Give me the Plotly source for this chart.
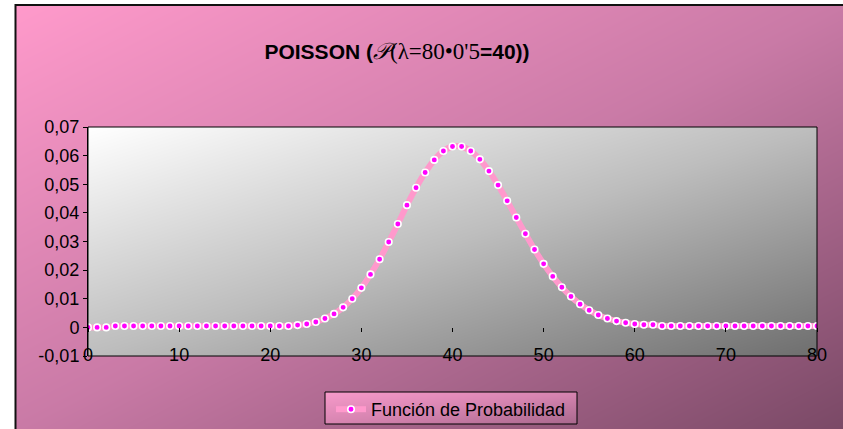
import plotly.graph_objects as go

# ---- data ----
k_values = list(range(0, 81))
prob_values = [
    0.0000, 0.0000, 0.0000, 0.0005, 0.0005, 0.0005, 0.0005, 0.0005, 0.0005, 0.0005,  # 0-9
    0.0005, 0.0005, 0.0005, 0.0005, 0.0005, 0.0005, 0.0005, 0.0005, 0.0005, 0.0005,  # 10-19
    0.0005, 0.0005, 0.0005, 0.0008, 0.0012, 0.0019, 0.0031, 0.0047, 0.0070, 0.0100,  # 20-29
    0.0138, 0.0185, 0.0238, 0.0298, 0.0361, 0.0427, 0.0488, 0.0541, 0.0585, 0.0616,  # 30-39
    0.0632, 0.0632, 0.0616, 0.0587, 0.0546, 0.0497, 0.0442, 0.0384, 0.0327, 0.0272,  # 40-49
    0.0222, 0.0178, 0.0140, 0.0108, 0.0081, 0.0060, 0.0043, 0.0031, 0.0022, 0.0016,  # 50-59
    0.0012, 0.0009, 0.0009, 0.0005, 0.0005, 0.0005, 0.0005, 0.0005, 0.0005, 0.0005,  # 60-69
    0.0005, 0.0005, 0.0005, 0.0005, 0.0005, 0.0005, 0.0005, 0.0005, 0.0005, 0.0005,  # 70-79
    0.0005,                                                                          # 80
]
x_tick_vals = [0, 10, 20, 30, 40, 50, 60, 70, 80]
y_tick_vals = [-0.01, 0, 0.01, 0.02, 0.03, 0.04, 0.05, 0.06, 0.07]
y_tick_text = ["-0,01", "0", "0,01", "0,02", "0,03", "0,04", "0,05", "0,06", "0,07"]
series_name = "Función de Probabilidad"
title_html = ("<b>POISSON (</b><span style='font-family:Liberation Serif;font-size:23px'>"
              "<i>𝒫</i>(λ=80•0'5</span><b>=40))</b>")

W, H = 843, 429
FONT = "Liberation Sans, Arial, sans-serif"

def px_x(p):
    return p / W

def px_y(p):
    return 1 - p / H

# plot-area pixel box
PL, PR, PT, PB = 88, 817, 127, 356
zero_px = PB - (PB - PT) * (0 - (-0.01)) / 0.08
# legend box
LL, LR, LT, LB = 325, 577, 392, 424

fig = go.Figure()

# chart-area diagonal gradient background
fig.add_trace(go.Heatmap(
    x=[0, 1], y=[0, 1], z=[[0.5, 1.0], [0.0, 0.5]],
    zsmooth="best", showscale=False, hoverinfo="skip",
    colorscale=[[0, "#FF9ACB"], [0.5, "#C97AA6"], [1, "#7A4966"]],
    zmin=0, zmax=1, xaxis="x", yaxis="y",
))
# plot-area gradient
fig.add_trace(go.Heatmap(
    x=[0, 80], y=[-0.01, 0.07], z=[[0.5, 1.0], [0.0, 0.5]],
    zsmooth="best", showscale=False, hoverinfo="skip",
    colorscale=[[0, "#FFFFFF"], [0.5, "#BDBDBD"], [1, "#6E6E6E"]],
    zmin=0, zmax=1, xaxis="x2", yaxis="y2",
))
# legend gradient
fig.add_trace(go.Heatmap(
    x=[0, 1], y=[0, 1], z=[[0.5, 1.0], [0.0, 0.5]],
    zsmooth="best", showscale=False, hoverinfo="skip",
    colorscale=[[0, "#F79ACA"], [0.5, "#D684B0"], [1, "#A7678C"]],
    zmin=0, zmax=1, xaxis="x3", yaxis="y3",
))
# data
fig.add_trace(go.Scatter(
    x=k_values, y=prob_values, name=series_name,
    mode="lines+markers",
    line=dict(color="#FF99CC", width=6, shape="spline", smoothing=0.6),
    marker=dict(symbol="circle", size=6.5, color="#FF00FF",
                line=dict(color="white", width=1.6)),
    xaxis="x2", yaxis="y2",
))

hidden = dict(visible=False, fixedrange=True)
fig.update_layout(
    width=W, height=H,
    margin=dict(l=0, r=0, t=0, b=0, pad=0, autoexpand=False),
    paper_bgcolor="white", plot_bgcolor="rgba(0,0,0,0)",
    font=dict(family=FONT, size=18, color="black"),
    showlegend=True,
    title=dict(text=title_html, x=397 / W, xanchor="center", y=px_y(52), yanchor="middle",
               font=dict(family=FONT, size=21, color="black")),
    xaxis=dict(domain=[px_x(15), 1], range=[0, 1], **hidden),
    yaxis=dict(domain=[0, px_y(5)], range=[0, 1], **hidden),
    xaxis3=dict(domain=[px_x(LL), px_x(LR)], range=[0, 1], anchor="y3", **hidden),
    yaxis3=dict(domain=[px_y(LB), px_y(LT)], range=[0, 1], anchor="x3", **hidden),
    xaxis2=dict(
        domain=[px_x(PL), px_x(PR)], range=[0, 80],
        anchor="free", position=px_y(zero_px),
        tickvals=x_tick_vals, ticks="outside", ticklen=4, tickcolor="black",
        showline=False, showgrid=False, zeroline=False,
        ticklabelstandoff=7,
        tickfont=dict(family=FONT, size=18, color="black"),
        fixedrange=True,
    ),
    yaxis2=dict(
        domain=[px_y(PB), px_y(PT)], range=[-0.01, 0.07], anchor="x2",
        tickvals=y_tick_vals, ticktext=y_tick_text,
        ticks="outside", ticklen=4, tickcolor="black",
        showline=True, linecolor="black", linewidth=1,
        showgrid=False, zeroline=True, zerolinecolor="black", zerolinewidth=1,
        tickfont=dict(family=FONT, size=18, color="black"),
        fixedrange=True,
    ),
    legend=dict(
        x=px_x(331), xanchor="left", y=px_y(LT - 1), yanchor="top",
        bgcolor="rgba(0,0,0,0)", borderwidth=0,
        font=dict(family=FONT, size=18, color="black"),
    ),
    shapes=[
        # plot-area frame
        dict(type="rect", xref="x2 domain", yref="y2 domain", x0=0, x1=1, y0=0, y1=1,
             line=dict(color="black", width=1), fillcolor="rgba(0,0,0,0)", layer="above"),
        # legend frame
        dict(type="rect", xref="x3 domain", yref="y3 domain", x0=0, x1=1, y0=0, y1=1,
             line=dict(color="black", width=1), fillcolor="rgba(0,0,0,0)", layer="above"),
        # chart-area frame (extends past right/bottom edge)
        dict(type="rect", xref="paper", yref="paper", x0=px_x(15.5), x1=1.02, y0=-0.02, y1=px_y(5),
             line=dict(color="#111111", width=2), fillcolor="rgba(0,0,0,0)", layer="above"),
    ],
)

fig.write_html("out.html")
